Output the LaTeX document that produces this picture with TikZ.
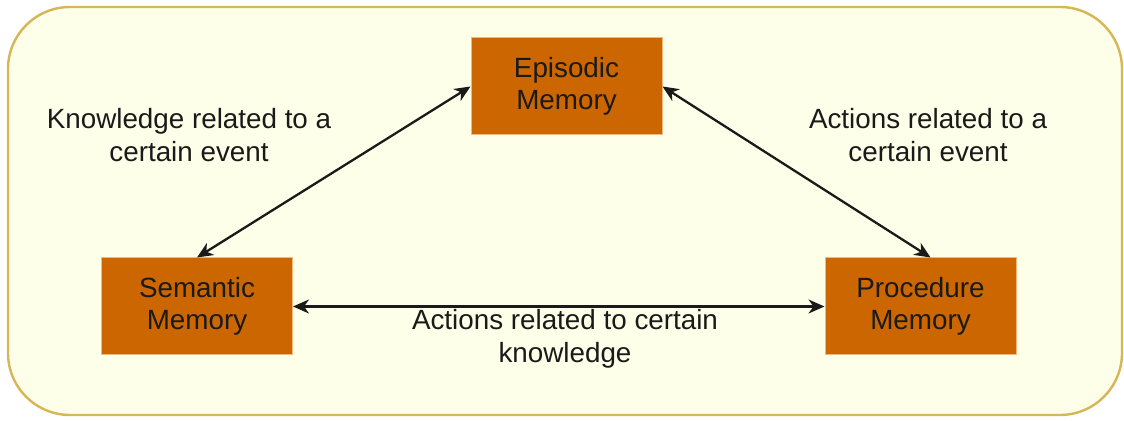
\documentclass[tikz,border=0pt]{standalone}
\usepackage{fontspec}
\setmainfont{Liberation Sans}
\usetikzlibrary{arrows.meta}
\definecolor{bgfill}{HTML}{FEFFE8}
\definecolor{bgline}{HTML}{D6B656}
\definecolor{memfill}{HTML}{CC6600}
\definecolor{memline}{HTML}{F2B77F}
\definecolor{inkcol}{HTML}{1A1A1A}
\begin{document}
\begin{tikzpicture}[x=0.5pt, y=-0.5pt,
    membox/.style={draw=memline, line width=0.5pt, fill=memfill, minimum width=95.5pt,
      minimum height=48.5pt, align=center, font=\fontsize{13.9}{16.3}\selectfont, text=inkcol},
    note/.style={align=center, font=\fontsize{13.9}{16.3}\selectfont, text=inkcol},
    link/.style={{Stealth[length=8pt,width=7pt,inset=2.5pt]}-{Stealth[length=8pt,width=7pt,inset=2.5pt]}, line width=1.15pt, inkcol}]
  \useasboundingbox (0, 0) rectangle (1124, 421);

  % Background panel
  \draw[bgline, fill=bgfill, line width=1.2pt, rounded corners=31pt] (8, 7) rectangle (1122, 415);

  % Memory boxes
  \node[membox] (epi) at (566.5, 86.5) {Episodic\\Memory};
  \node[membox] (sem) at (197, 306.5) {Semantic\\Memory};
  \node[membox] (pro) at (920.5, 306.5) {Procedure\\Memory};

  % Connectors
  \draw[link] (epi.west) -- (sem.north);
  \draw[link] (epi.east) -- ([xshift=5pt]pro.north);
  \draw[link] (sem.east) -- (pro.west);

  % Connector labels
  \node[note] (lblks) at (189, 135) {Knowledge related to a\\certain event};
  \node[note] (lblap) at (928, 135) {Actions related to a\\certain event};
  \node[note] (lblsp) at (565, 339) {Actions related to certain\\knowledge};
\end{tikzpicture}
\end{document}
